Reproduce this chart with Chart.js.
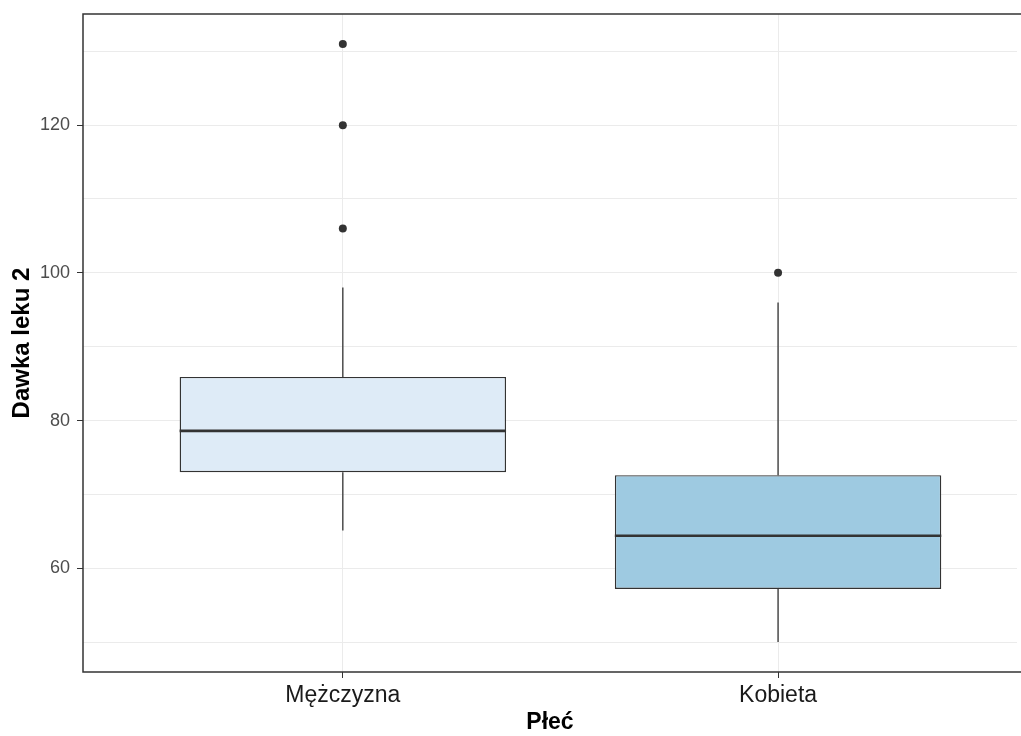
<!DOCTYPE html>
<html>
<head>
<meta charset="utf-8">
<script src="https://cdn.jsdelivr.net/npm/chart.js@4"></script>
<style>
  html, body { margin: 0; padding: 0; background: #fff; }
</style>
</head>
<body>
<canvas id="myChart" width="1021" height="736"></canvas>
<script>
// box plot summary per group
var categories = ['Mężczyzna', 'Kobieta'];
var whiskerLow = [65.1, 50];
var q1 = [73.0, 57.2];
var median = [78.6, 64.4];
var q3 = [85.9, 72.6];
var whiskerHigh = [98, 96];
var outliers = [[106, 120, 131], [100]];
var yTicks = [50, 60, 70, 80, 90, 100, 110, 120, 130];
var yLabels = [60, 80, 100, 120];

var BOX_WIDTH = 0.75;
var DARK = '#333333';
var GRID = '#EBEBEB';

var boxData = categories.map(function (c, i) {
  return { x: i + 1, y: [q1[i], q3[i]] };
});
var whiskerData = [];
var medianData = [];
var outlierData = [];
categories.forEach(function (c, i) {
  var x = i + 1;
  whiskerData.push({ x: x, y: q3[i] }, { x: x, y: whiskerHigh[i] }, { x: x, y: null });
  whiskerData.push({ x: x, y: q1[i] }, { x: x, y: whiskerLow[i] }, { x: x, y: null });
  medianData.push({ x: x - BOX_WIDTH / 2, y: median[i] }, { x: x + BOX_WIDTH / 2, y: median[i] }, { x: x, y: null });
  outliers[i].forEach(function (v) { outlierData.push({ x: x, y: v }); });
});

var panelBorder = {
  id: 'panelBorder',
  afterDraw: function (chart) {
    var a = chart.chartArea, ctx = chart.ctx;
    ctx.save();
    ctx.strokeStyle = DARK;
    ctx.lineWidth = 1.5;
    ctx.beginPath();
    ctx.moveTo(chart.width + 2, a.top);
    ctx.lineTo(a.left, a.top);
    ctx.lineTo(a.left, a.bottom);
    ctx.lineTo(chart.width + 2, a.bottom);
    ctx.stroke();
    ctx.restore();
  }
};

Chart.defaults.font.family = '"Liberation Sans", Arial, sans-serif';

var config = {
  type: 'bar',
  data: {
    datasets: [{
      type: 'scatter',
      data: outlierData,
      pointRadius: 4,
      pointBackgroundColor: DARK,
      pointBorderWidth: 0,
      order: 0
    }, {
      type: 'line',
      data: medianData,
      borderColor: DARK,
      borderWidth: 2.6,
      pointRadius: 0,
      spanGaps: false,
      order: 1
    }, {
      type: 'line',
      data: whiskerData,
      borderColor: DARK,
      borderWidth: 1.3,
      pointRadius: 0,
      spanGaps: false,
      order: 2
    }, {
      type: 'bar',
      data: boxData,
      backgroundColor: ['#DEEBF7', '#9ECAE1'],
      borderColor: DARK,
      borderWidth: 1.4,
      borderSkipped: false,
      barPercentage: BOX_WIDTH,
      categoryPercentage: 1,
      order: 3
    }]
  },
  options: {
    responsive: false,
    animation: false,
    layout: { padding: { top: 14, right: 0, left: 0, bottom: 0 } },
    plugins: { legend: { display: false }, tooltip: { enabled: false } },
    scales: {
      x: {
        type: 'linear',
        min: 0.403,
        max: 2.549,
        offset: false,
        afterBuildTicks: function (scale) {
          scale.ticks = categories.map(function (c, i) { return { value: i + 1 }; });
        },
        afterFit: function (scale) {
          scale.height = 64;
          scale.paddingLeft = 0;
          scale.paddingRight = 0;
        },
        grid: { color: GRID, lineWidth: 1, offset: false, tickLength: 6, tickColor: DARK },
        border: { display: false },
        ticks: {
          padding: 4,
          color: '#1A1A1A',
          font: { size: 23 },
          callback: function (v) { return categories[Math.round(v) - 1] || ''; }
        },
        title: {
          display: true,
          text: 'Płeć',
          color: '#000',
          font: { size: 23, weight: 'bold' },
          padding: { top: 0, bottom: 0 }
        }
      },
      y: {
        min: 45.95,
        max: 135.05,
        afterBuildTicks: function (scale) {
          scale.ticks = yTicks.map(function (v) { return { value: v }; });
        },
        afterFit: function (scale) {
          scale.width = 83;
          scale.paddingTop = 0;
          scale.paddingBottom = 0;
        },
        grid: {
          color: GRID,
          lineWidth: 1,
          tickLength: 6,
          tickColor: function (ctx) {
            return ctx.tick && yLabels.indexOf(ctx.tick.value) >= 0 ? DARK : 'rgba(0,0,0,0)';
          }
        },
        border: { display: false },
        ticks: {
          padding: 7,
          color: '#4D4D4D',
          font: { size: 18 },
          callback: function (v) { return yLabels.indexOf(v) >= 0 ? String(v) : ''; }
        },
        title: {
          display: true,
          text: 'Dawka leku 2',
          color: '#000',
          font: { size: 24, weight: 'bold' },
          padding: { top: 8, bottom: 0 }
        }
      }
    }
  },
  plugins: [panelBorder]
};

var myChart = new Chart(document.getElementById('myChart'), config);
</script>
</body>
</html>
